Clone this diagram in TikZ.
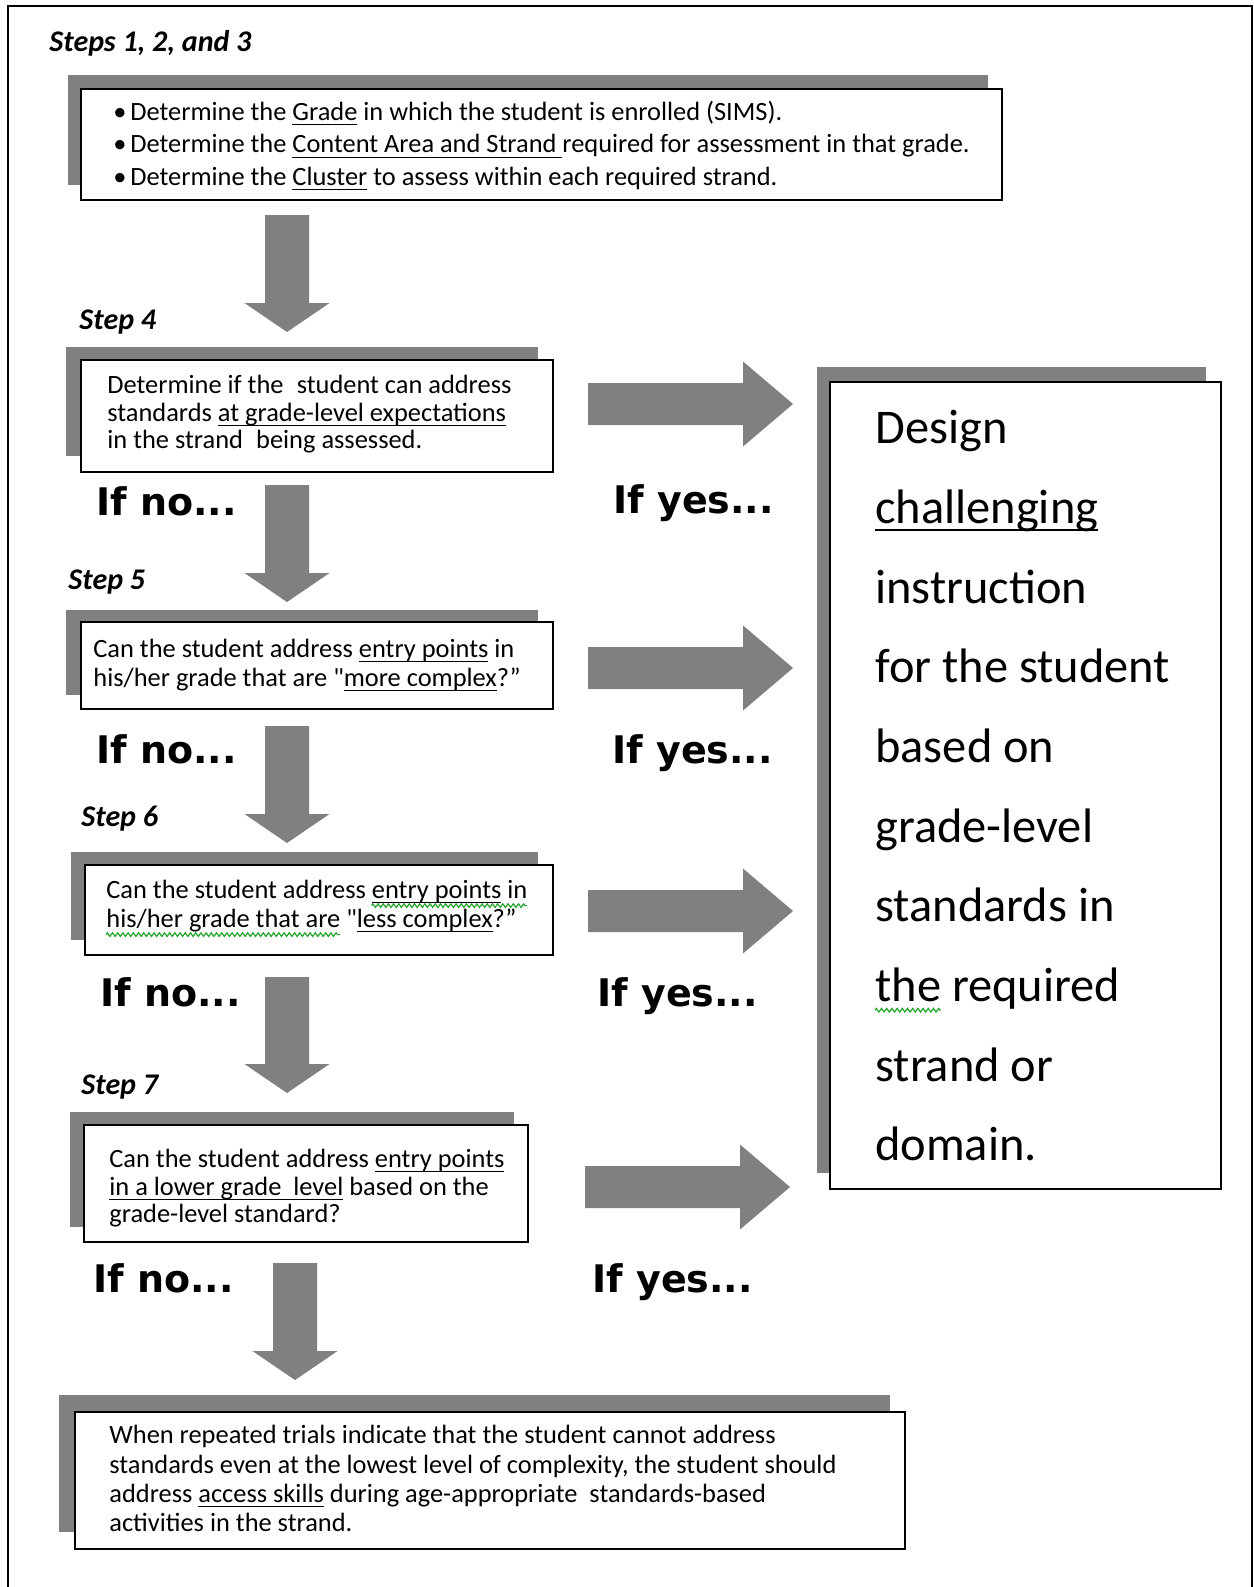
\documentclass[tikz,border=0pt]{standalone}
\usepackage{fontspec}
\setmainfont{Carlito}[Ligatures=TeXOff]
\newfontfamily\ynfont{DejaVu Sans}
\usetikzlibrary{decorations.pathmorphing}
\definecolor{agray}{HTML}{808080}
\definecolor{wgreen}{HTML}{22A52A}
\newsavebox{\ulbox}
\newcommand{\uls}[1]{\sbox{\ulbox}{#1}\rlap{\rule[-2.7pt]{\wd\ulbox}{0.7pt}}\usebox{\ulbox}}
\newcommand{\ulb}[1]{\sbox{\ulbox}{#1}\rlap{\rule[-3.9pt]{\wd\ulbox}{0.8pt}}\usebox{\ulbox}}
\newlength{\wva}
\newlength{\wvb}
\newlength{\wvc}
\newlength{\wvd}
\newcommand{\vblockarrow}[3]{%
  \fill[agray] ({#1-22},#2) -- ({#1+22},#2) -- ({#1+22},{#3-29}) -- ({#1+42.5},{#3-29}) -- (#1,#3) -- ({#1-42.5},{#3-29}) -- ({#1-22},{#3-29}) -- cycle;}
\newcommand{\hblockarrow}[3]{%
  \fill[agray] (#1,{#2-21}) -- ({#3-50},{#2-21}) -- ({#3-50},{#2-42.5}) -- (#3,#2) -- ({#3-50},{#2+42.5}) -- ({#3-50},{#2+21}) -- (#1,{#2+21}) -- cycle;}
\begin{document}
\settowidth{\wva}{\fontsize{13.2}{15}\selectfont Can the student address }%
\settowidth{\wvb}{\fontsize{13.2}{15}\selectfont entry points in}%
\settowidth{\wvc}{\fontsize{13.2}{15}\selectfont his/her grade that are}%
\settowidth{\wvd}{\fontsize{24.2}{28}\selectfont the}%
\begin{tikzpicture}[x=0.5pt,y=-0.5pt,
  small/.style={anchor=base west,inner sep=0pt,font=\fontsize{13.2}{15}\selectfont},
  big/.style={anchor=base west,inner sep=0pt,font=\fontsize{24.2}{28}\selectfont},
  steplbl/.style={anchor=base west,inner sep=0pt,font=\bfseries\itshape\fontsize{15}{18}\selectfont},
  ifl/.style={anchor=base west,inner sep=0pt,font=\ynfont\bfseries\fontsize{19}{22}\selectfont},
  shade/.style={fill=agray},
  panelbox/.style={fill=white,draw=black,line width=1pt},
  gwave/.style={draw=wgreen,line width=0.6pt,decorate,decoration={zigzag,amplitude=0.9pt,segment length=2.6pt}}]
\useasboundingbox (0,0) rectangle (1254,1587);
\fill[white] (0,0) rectangle (1254,1587);
% frame
\draw[line width=1pt] (8,1600) -- (8,6) -- (1252,6) -- (1252,1600);

% Steps 1-3
\node[steplbl] (s123) at (49,51) {Steps 1, 2, and 3};
\fill[shade] (68,75) rectangle (988,185);
\draw[panelbox] (81,89) rectangle (1002,200);
\node[small] (b1a) at (113,120) {\textbullet};
\node[small] (b1b) at (113,152.5) {\textbullet};
\node[small] (b1c) at (113,185) {\textbullet};
\node[small] (l1a) at (130,120) {Determine the \uls{Grade} in which the student is enrolled (SIMS).};
\node[small] (l1b) at (130,152.5) {Determine the \uls{Content Area and Strand\ }required for assessment in that grade.};
\node[small] (l1c) at (130,185) {Determine the \uls{Cluster} to assess within each required strand.};

\vblockarrow{287}{215}{332}

% Step 4
\node[steplbl] (s4) at (79,329) {Step 4};
\fill[shade] (66,347) rectangle (538,456);
\draw[panelbox] (81,360) rectangle (553,472);
\node[small] (l4a) at (107,393) {Determine if the\hspace{0.5em}student can address};
\node[small] (l4b) at (107,421) {standards \uls{at grade-level expectations}};
\node[small] (l4c) at (107,448) {in the strand\hspace{0.5em}being assessed.};
\hblockarrow{588}{404}{793}
\node[ifl] (no1) at (96,515) {If no...};
\node[ifl] (yes1) at (613,513) {If yes...};
\vblockarrow{287}{485}{602}

% Step 5
\node[steplbl] (s5) at (68,589) {Step 5};
\fill[shade] (66,610) rectangle (538,695);
\draw[panelbox] (81,622) rectangle (553,709);
\node[small] (l5a) at (93,657) {Can the student address \uls{entry points} in};
\node[small] (l5b) at (93,686) {his/her grade that are "\uls{more complex}?”};
\hblockarrow{588}{668}{793}
\node[ifl] (no2) at (96,763) {If no...};
\node[ifl] (yes2) at (612,763) {If yes...};
\vblockarrow{287}{726}{843}

% Step 6
\node[steplbl] (s6) at (81,826) {Step 6};
\fill[shade] (71,852) rectangle (538,940);
\draw[panelbox] (85,865) rectangle (553,955);
\node[small] (l6a) at (106,898) {Can the student address \uls{entry points} in};
\node[small] (l6b) at (106,927) {his/her grade that are "\uls{less complex}?”};
\draw[gwave] ([xshift=\wva,yshift=-3.8pt]l6a.base west) -- ([xshift=\wva+\wvb,yshift=-3.8pt]l6a.base west);
\draw[gwave] ([yshift=-3.8pt]l6b.base west) -- ([xshift=\wvc,yshift=-3.8pt]l6b.base west);
\hblockarrow{588}{911}{793}
\node[ifl] (no3) at (100,1006) {If no...};
\node[ifl] (yes3) at (597,1006) {If yes...};
\vblockarrow{287}{977}{1093}

% Step 7
\node[steplbl] (s7) at (81,1094) {Step 7};
\fill[shade] (70,1112) rectangle (514,1227);
\draw[panelbox] (84,1125) rectangle (528,1242);
\node[small] (l7a) at (109,1167) {Can the student address \uls{entry points}};
\node[small] (l7b) at (109,1195) {\uls{in a lower grade\ \ level} based on the};
\node[small] (l7c) at (109,1222) {grade-level standard?};
\hblockarrow{585}{1187}{790}
\node[ifl] (no4) at (93,1292) {If no...};
\node[ifl] (yes4) at (592,1292) {If yes...};
\vblockarrow{295}{1263}{1380}

% final box
\fill[shade] (59,1395) rectangle (890,1532);
\draw[panelbox] (75,1412) rectangle (905,1549);
\node[small] (l8a) at (109,1443) {When repeated trials indicate that the student cannot address};
\node[small] (l8b) at (109,1473) {standards even at the lowest level of complexity, the student should};
\node[small] (l8c) at (109,1502) {address \uls{access skills} during age-appropriate\ \ standards-based};
\node[small] (l8d) at (109,1531) {activities in the strand.};

% right box
\fill[shade] (817,367) rectangle (1206,1173);
\draw[panelbox] (830,382) rectangle (1221,1189);
\node[big] (r1) at (875,443) {Design};
\node[big] (r2) at (875,523) {\ulb{challenging}};
\node[big] (r3) at (875,603) {instruction};
\node[big] (r4) at (875,682) {for the student};
\node[big] (r5) at (875,762) {based on};
\node[big] (r6) at (875,842) {grade-level};
\node[big] (r7) at (875,921) {standards in};
\node[big] (r8) at (875,1001) {the required};
\node[big] (r9) at (875,1081) {strand or};
\node[big] (r10) at (875,1160) {domain.};
\draw[gwave] ([yshift=-4.6pt]r8.base west) -- ([xshift=\wvd,yshift=-4.6pt]r8.base west);
\end{tikzpicture}
\end{document}
